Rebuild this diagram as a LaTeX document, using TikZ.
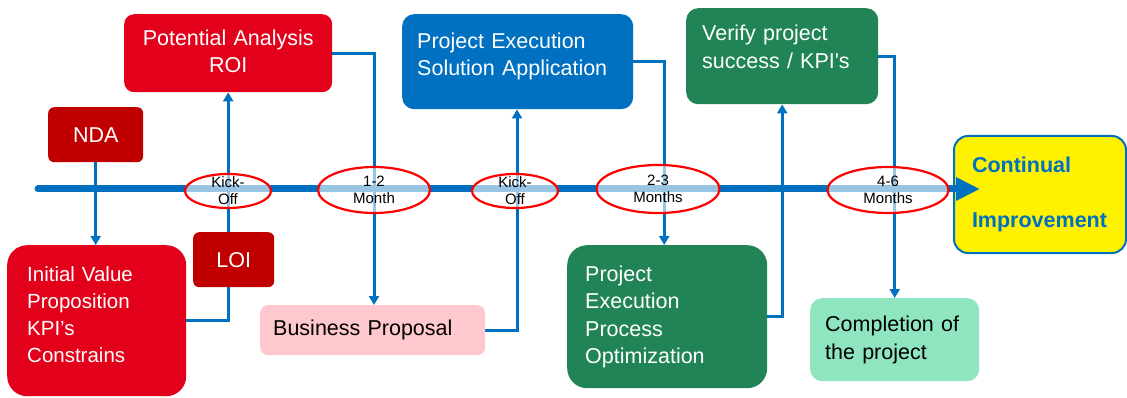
\documentclass[tikz,border=0pt]{standalone}
\usepackage{fontspec}
\setmainfont{Liberation Sans}
\usepackage{tikz}
\usetikzlibrary{arrows.meta,shapes.geometric}

\definecolor{ppRed}{RGB}{226,0,26}
\definecolor{ppDarkRed}{RGB}{192,0,0}
\definecolor{ppBlue}{RGB}{0,112,192}
\definecolor{ppGreen}{RGB}{33,132,87}
\definecolor{ppMint}{RGB}{142,229,192}
\definecolor{ppPink}{RGB}{255,199,206}

\pgfdeclarelayer{bg}
\pgfsetlayers{bg,main}

\begin{document}
\begin{tikzpicture}[x=1pt,y=-1pt,
    box/.style={rectangle, anchor=north west, inner ysep=0pt, align=left,
        font=\fontsize{21.5}{27.5}\selectfont},
    bubble/.style={ellipse, draw=red, line width=2.2pt, fill=white,
        fill opacity=0.6, text opacity=1, inner sep=0pt},
    bubtext/.style={align=center, font=\fontsize{15}{17}\selectfont},
    timeline/.style={ppBlue, line width=7pt, line cap=round,
        -{Triangle[width=22pt,length=24pt]}},
    link/.style={ppBlue, line width=3pt},
    arr/.style={link, -{Triangle[width=10pt,length=9pt]}}]
            \useasboundingbox (0,0) rectangle (1127,398);

            % Boxes above the timeline
            \node[box, fill=ppRed, text=white, rounded corners=10pt, align=center,
                minimum width=208pt, minimum height=78pt, inner xsep=8pt, text width=192pt,
                text depth=31pt]
                (pot) at (124,14) {Potential Analysis\\ROI};
            \node[box, fill=ppDarkRed, text=white, rounded corners=6pt, align=center,
                minimum width=95pt, minimum height=55pt, inner xsep=0pt]
                (nda) at (48,107) {NDA};
            \node[box, fill=ppBlue, text=white, rounded corners=12pt,
                minimum width=231pt, minimum height=95pt, inner xsep=15pt, text width=201pt,
                text depth=42pt]
                (pesa) at (402,14) {Project Execution\\Solution Application};
            \node[box, fill=ppGreen, text=white, rounded corners=12pt,
                minimum width=192pt, minimum height=96pt, inner xsep=16pt, text width=160pt,
                text depth=46pt]
                (verify) at (686,8) {Verify project\\success / KPI\textquotesingle s};

            % Boxes below the timeline
            \node[box, fill=ppRed, text=white, rounded corners=20pt,
                font=\fontsize{20.5}{27}\selectfont,
                minimum width=179pt, minimum height=151pt, inner xsep=20pt, text width=139pt,
                text depth=93pt]
                (init) at (7,245) {Initial Value\\Proposition\\KPI’s\\Constrains};
            \node[box, fill=ppDarkRed, text=white, rounded corners=6pt, align=center,
                minimum width=81pt, minimum height=55pt, inner xsep=0pt]
                (loi) at (193,232) {LOI};
            \node[box, fill=ppPink, rounded corners=8pt,
                minimum width=225pt, minimum height=50pt, inner xsep=13pt, text width=199pt]
                (bp) at (260,305) {Business Proposal};
            \node[box, fill=ppGreen, text=white, rounded corners=20pt,
                minimum width=200pt, minimum height=143pt, inner xsep=18pt, text width=164pt]
                (pepo) at (567,245) {Project\\Execution\\Process\\Optimization};
            \node[box, fill=ppMint, rounded corners=12pt,
                minimum width=169pt, minimum height=83pt, inner xsep=15pt, text width=139pt]
                (compl) at (810,298) {Completion of\\the project};

            % Goal
            \node[box, fill=yellow, draw=ppBlue, line width=2pt, text=ppBlue, rounded corners=14pt,
                font=\fontsize{21.5}{55}\selectfont\bfseries,
                minimum width=172pt, minimum height=117pt, inner xsep=18pt, text width=136pt]
                (cont) at (953,135) {Continual\\Improvement};

            % Timeline
            \coordinate (tstart) at (38,189);
            \draw[timeline] (tstart) -- ([xshift=27pt]tstart -| cont.west);

            % Milestones
            \node[bubble, minimum width=86pt, minimum height=34pt,
                label={[bubtext]center:Kick-\\Off}] (ko1) at (228,191) {};
            \node[bubble, minimum width=112pt, minimum height=46pt,
                label={[bubtext]center:1-2\\Month}] (m12) at (374,190) {};
            \node[bubble, minimum width=86pt, minimum height=34pt,
                label={[bubtext]center:Kick-\\Off}] (ko2) at (515,191) {};
            \node[bubble, minimum width=123pt, minimum height=48pt,
                label={[bubtext]center:2-3\\Months}] (m23) at (658,189) {};
            \node[bubble, minimum width=121pt, minimum height=46pt,
                label={[bubtext]center:4-6\\Months}] (m46) at (888,190) {};

            % Connectors
            \begin{pgfonlayer}{bg}
            \draw[arr] (nda.south) -- (nda.south |- init.north);
            \draw[arr] (init.east) -| (pot.south);
            \draw[arr] (pot.east) -| (m12 |- bp.north);
            \draw[arr] (bp.east) -| ([xshift=2pt]ko2 |- pesa.south);
            \draw[arr] (pesa.east) -| ([xshift=-3pt]pepo.north);
            \draw[arr] (pepo.east) -| (verify.south);
            \draw[arr] (verify.east) -| (compl.north);
            \end{pgfonlayer}
        \end{tikzpicture}
\end{document}
